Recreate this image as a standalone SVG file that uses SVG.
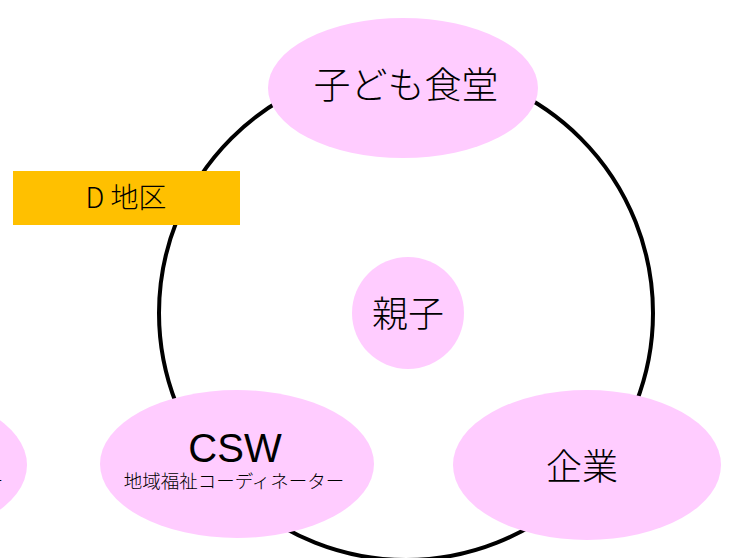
<svg xmlns="http://www.w3.org/2000/svg" width="729" height="558" viewBox="0 0 729 558">
<style>
.node{fill:#FFCCFF;}
.t{font-family:"Liberation Sans","Noto Sans CJK JP",sans-serif;fill:#000;text-anchor:middle;}
.j{font-family:"Noto Sans CJK JP","Liberation Sans",sans-serif;fill:#000;text-anchor:middle;font-weight:300;}
</style>
<rect width="729" height="558" fill="#FFFFFF"/>
<g id="connectors">
<circle cx="406" cy="313" r="247" fill="none" stroke="#000" stroke-width="4"/>
</g>
<g id="kodomo-shokudo">
<ellipse class="node" cx="403" cy="88" rx="135" ry="70"/>
<text class="j" x="406" y="99" font-size="37">子ども食堂</text>
</g>
<g id="oyako">
<circle class="node" cx="408" cy="313" r="56"/>
<text class="j" x="408" y="327" font-size="36">親子</text>
</g>
<g id="csw">
<ellipse class="node" cx="237" cy="464" rx="137" ry="74"/>
<text class="t" x="235" y="462" font-size="40">CSW</text>
<text class="j" x="234" y="488" font-size="18.5">地域福祉コーディネーター</text>
</g>
<g id="kigyo">
<ellipse class="node" cx="587" cy="465" rx="134" ry="75"/>
<text class="j" x="582" y="480" font-size="36">企業</text>
</g>
<g id="left-node">
<ellipse class="node" cx="-110" cy="465" rx="137" ry="75"/>
<text class="j" x="-6" y="488" font-size="18.5">ー</text>
</g>
<g id="d-chiku">
<rect x="13" y="171" width="227" height="54" fill="#FFC000"/>
<text class="j" x="126" y="208" font-size="28">D 地区</text>
</g>
</svg>
